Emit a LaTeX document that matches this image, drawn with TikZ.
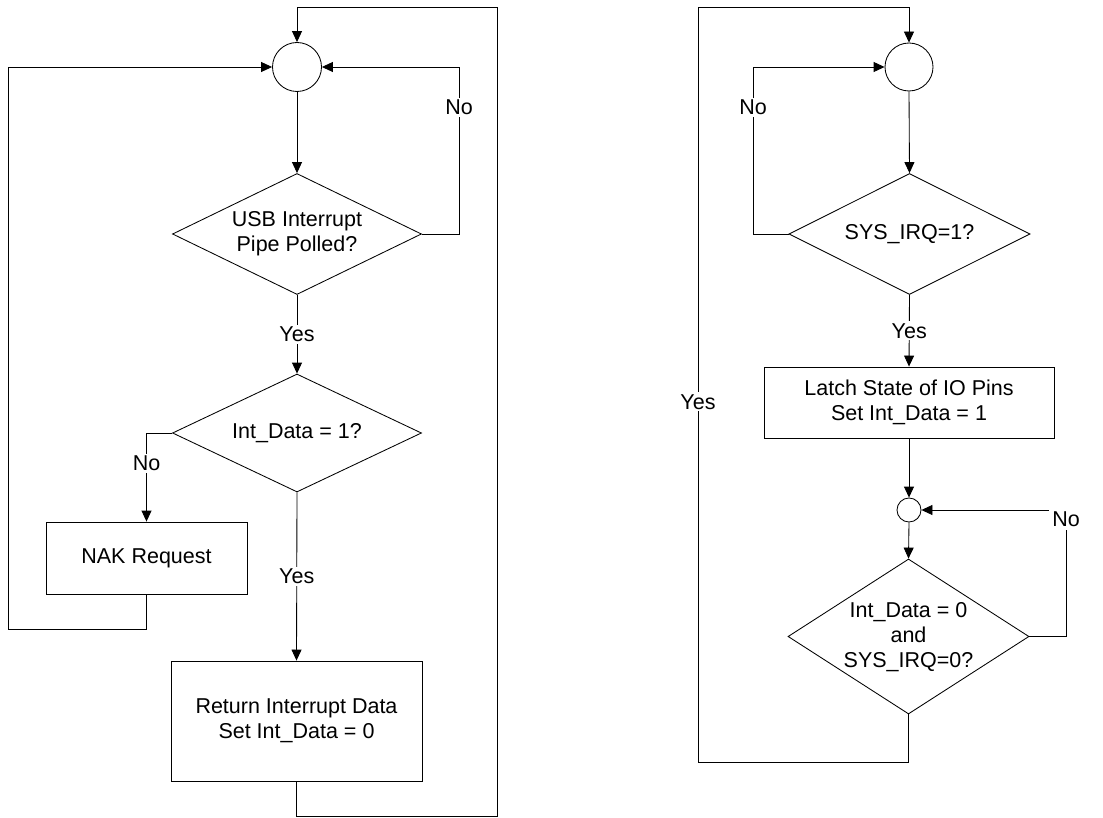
\documentclass[tikz,border=0pt]{standalone}
\usepackage{fontspec}
\setmainfont{Liberation Sans}
\usetikzlibrary{arrows.meta,shapes.geometric}
\begin{document}
\begin{tikzpicture}[x=1pt,y=-1pt,
  line width=0.85pt,
  every node/.style={font=\fontsize{21.5}{25}\selectfont},
  conn/.style={draw,-{Triangle[length=11pt,width=10pt]}},
  jn/.style={circle,draw,inner sep=0pt},
  dia/.style={diamond,draw,inner sep=0pt},
  dtext/.style={align=center,inner sep=0pt},
  box/.style={rectangle,draw,inner sep=0pt,align=center},
  lbl/.style={fill=white,inner sep=2pt}]
\useasboundingbox (0,0) rectangle (1103,818);

% ---------- left flowchart ----------
\node[jn,minimum size=49pt] (c1) at (297,67) {};
\node[dia,minimum width=249pt,minimum height=121pt] (d1) at (297,234) {};
\node[dtext] (t1) at (297,234) {USB Interrupt\\Pipe Polled?};
\node[dia,minimum width=249pt,minimum height=118pt] (d2) at (297,433) {};
\node[dtext] (t2) at (297,433) {Int\_Data = 1?};
\node[box,minimum width=201pt,minimum height=72pt] (nak) at (146.5,558) {NAK Request};
\node[box,minimum width=251pt,minimum height=120pt] (ret) at (296.5,721) {Return Interrupt Data\\ Set Int\_Data = 0};

\coordinate (r1) at (459,67);
\coordinate (l1) at (8,629);
\coordinate (l2) at (497,816);
\coordinate (l3) at (497,7);

\draw[conn] (c1.south) -- (d1.north);
\draw[conn] (d1.east) -| node[lbl,pos=0.88] (no1) {No} (r1) -- (c1.east);
\draw[conn] (d1.south) -- node[lbl] (yes1) {Yes} (d2.north);
\draw[conn] (d2.west) -| node[lbl,pos=0.67] (no2) {No} (nak.north);
\draw[conn] (d2.south) -- node[lbl] (yes2) {Yes} (ret.north);
\draw[conn] (nak.south) |- (l1) |- (c1.west);
\draw[conn] (ret.south) |- (l2) -- (l3) -| (c1.north);

% ---------- right flowchart ----------
\node[jn,minimum size=48pt] (c3) at (909,67) {};
\node[dia,minimum width=241pt,minimum height=121pt] (d3) at (909.5,234) {};
\node[dtext] (t3) at (909.5,234) {SYS\_IRQ=1?};
\node[box,minimum width=290pt,minimum height=71pt] (latch) at (909,402.5) {Latch State of IO Pins\\ Set Int\_Data = 1};
\node[jn,minimum size=24pt] (c4) at (909,510) {};
\node[dia,minimum width=241pt,minimum height=155pt] (d4) at (908.5,636.5) {};
\node[dtext] (t4) at (908.5,637) {Int\_Data = 0\\and\\SYS\_IRQ=0?};

\coordinate (r2) at (753,67);
\coordinate (r3) at (1066,510);
\coordinate (y1) at (698,762);
\coordinate (y2) at (698,7);

\draw[conn] (c3.south) -- (d3.north);
\draw[conn] (d3.west) -| node[lbl,pos=0.88] (no3) {No} (r2) -- (c3.west);
\draw[conn] (d3.south) -- node[lbl] (yes3) {Yes} (latch.north);
\draw[conn] (latch.south) -- (c4.north);
\draw[conn] (c4.south) -- (d4.north);
\draw[conn] (d4.east) -| (r3) -- (c4.east);
\node[lbl,inner sep=3pt] (no4) at (1066,519) {No};
\draw[conn] (d4.south) |- (y1) -- node[lbl,pos=0.477] (yes4) {Yes} (y2) -| (c3.north);
\end{tikzpicture}
\end{document}
